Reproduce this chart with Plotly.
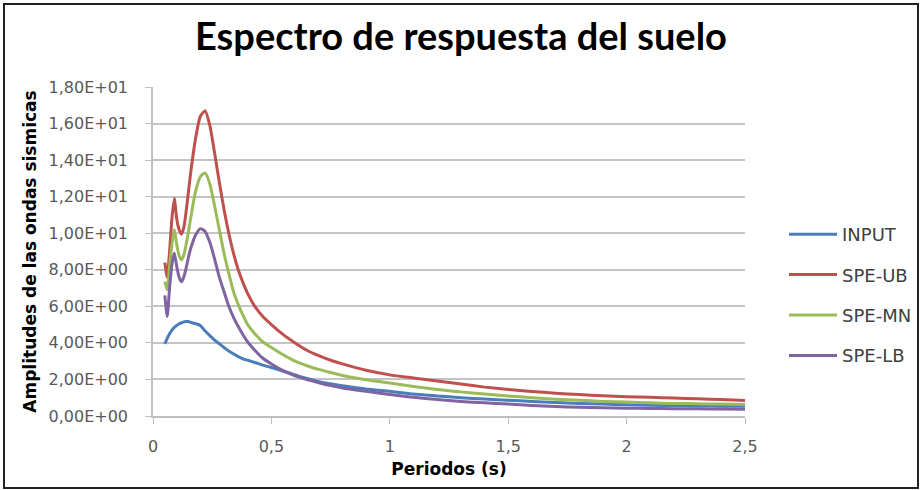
import plotly.graph_objects as go

# Periods (s) shared by every spectrum
periodos = [0.05, 0.06, 0.07, 0.08, 0.09, 0.10, 0.11, 0.12, 0.13, 0.14, 0.15, 0.16,
            0.18, 0.20, 0.22, 0.24, 0.26, 0.28, 0.30, 0.32, 0.34, 0.36, 0.38, 0.40,
            0.43, 0.46, 0.50, 0.55, 0.60, 0.65, 0.70, 0.75, 0.80, 0.90, 1.00, 1.10,
            1.20, 1.30, 1.40, 1.50, 1.60, 1.70, 1.80, 1.90, 2.00, 2.10, 2.20, 2.30,
            2.40, 2.50]

input_vals = [3.95, 4.25, 4.5, 4.7, 4.85, 4.95, 5.05, 5.1, 5.15, 5.17, 5.17, 5.12,
              5.05, 4.95, 4.65, 4.4, 4.15, 3.95, 3.75, 3.55, 3.4, 3.25, 3.13, 3.05,
              2.93, 2.8, 2.65, 2.45, 2.25, 2.05, 1.88, 1.76, 1.65, 1.48, 1.35, 1.2,
              1.1, 1.0, 0.93, 0.86, 0.8, 0.74, 0.69, 0.65, 0.62, 0.59, 0.57, 0.55,
              0.54, 0.53]

spe_ub = [8.4, 7.6, 9.0, 10.8, 11.9, 10.8, 10.2, 9.95, 10.3, 11.2, 12.3, 13.4,
          15.2, 16.4, 16.7, 15.9, 14.4, 12.8, 11.3, 10.0, 8.9, 8.0, 7.3, 6.7,
          6.0, 5.5, 5.0, 4.45, 4.0, 3.6, 3.3, 3.05, 2.85, 2.5, 2.25, 2.08,
          1.92, 1.75, 1.58, 1.45, 1.34, 1.25, 1.17, 1.11, 1.06, 1.02, 0.98, 0.94,
          0.9, 0.85]

spe_mn = [7.35, 6.9, 8.2, 9.4, 10.2, 9.4, 8.8, 8.55, 8.8, 9.4, 10.1, 10.9,
          12.3, 13.1, 13.3, 12.7, 11.5, 10.2, 8.9, 7.8, 6.8, 6.1, 5.5, 5.0,
          4.5, 4.1, 3.75, 3.35, 3.0, 2.75, 2.55, 2.38, 2.22, 1.98, 1.8, 1.62,
          1.45, 1.32, 1.2, 1.1, 1.0, 0.92, 0.86, 0.8, 0.76, 0.72, 0.69, 0.67,
          0.65, 0.63]

spe_lb = [6.6, 5.45, 7.0, 8.3, 8.9, 8.2, 7.6, 7.35, 7.6, 8.1, 8.7, 9.2,
          9.9, 10.25, 10.1, 9.5, 8.6, 7.6, 6.8, 6.0, 5.4, 4.9, 4.45, 4.05,
          3.6, 3.2, 2.85, 2.48, 2.2, 2.0, 1.82, 1.66, 1.53, 1.35, 1.18, 1.02,
          0.9, 0.8, 0.72, 0.65, 0.58, 0.52, 0.48, 0.45, 0.43, 0.41, 0.4, 0.39,
          0.38, 0.37]

series_names = ["INPUT", "SPE-UB", "SPE-MN", "SPE-LB"]
series_values = [input_vals, spe_ub, spe_mn, spe_lb]
series_colors = ["#4A7EBB", "#C0504D", "#9BBB59", "#8064A2"]

y_tickvals = [0, 2, 4, 6, 8, 10, 12, 14, 16, 18]
y_ticktext = ["0,00E+00", "2,00E+00", "4,00E+00", "6,00E+00", "8,00E+00",
              "1,00E+01", "1,20E+01", "1,40E+01", "1,60E+01", "1,80E+01"]
x_tickvals = [0, 0.5, 1, 1.5, 2, 2.5]
x_ticktext = ["0", "0,5", "1", "1,5", "2", "2,5"]

TITLE_FONT = "Lato, sans-serif"
FONT = "'DejaVu Sans', sans-serif"

fig = go.Figure()
for name, vals, color in zip(series_names, series_values, series_colors):
    fig.add_trace(go.Scatter(
        x=periodos, y=vals, name=name, mode="lines",
        legendgroup=name,
        line=dict(color=color, width=3, shape="spline", smoothing=0.6),
    ))

W, H = 922, 490
L, R, T, B = 153, 177, 87, 74
pw, ph = W - L - R, H - T - B

def px_x(p):
    return (p - L) / pw

def px_y(p):
    return (H - B - p) / ph

fig.update_layout(
    width=W, height=H,
    margin=dict(l=L, r=R, t=T, b=B, autoexpand=False),
    paper_bgcolor="white", plot_bgcolor="white",
    font=dict(family=FONT, color="#595959", size=16),
    title=dict(text="<b>Espectro de respuesta del suelo</b>",
               x=0.5, xanchor="center", y=1 - 37 / H, yanchor="middle",
               font=dict(family=TITLE_FONT, size=38, color="#000000")),
    showlegend=True,
    legend=dict(x=px_x(784), xanchor="left", y=px_y(216), yanchor="top",
                itemwidth=48,
                font=dict(family=FONT, size=18, color="#404040"),
                tracegroupgap=14, bgcolor="rgba(0,0,0,0)"),
    xaxis=dict(range=[0, 2.5], tickvals=x_tickvals, ticktext=x_ticktext,
               automargin=False,
               showgrid=False, zeroline=False,
               showline=True, linecolor="#BFBFBF", linewidth=1.5,
               ticks="outside", ticklen=6, tickcolor="#BFBFBF",
               ticklabelstandoff=9,
               tickfont=dict(family=FONT, size=16, color="#595959"),
               title=dict(text="<b>Periodos (s)</b>", standoff=8,
                          font=dict(family=FONT, size=17, color="#000000"))),
    yaxis=dict(range=[0, 18], tickvals=y_tickvals, ticktext=y_ticktext,
               automargin=False,
               showgrid=True, gridcolor="#C4C4C4", gridwidth=1.5,
               zeroline=False,
               showline=True, linecolor="#BFBFBF", linewidth=1.5,
               ticks="outside", ticklen=6, tickcolor="#BFBFBF",
               ticklabelstandoff=14,
               tickfont=dict(family=FONT, size=16, color="#595959"),
               title=dict(text="<b>Amplitudes de las ondas sismicas</b>", standoff=8,
                          font=dict(family=FONT, size=17, color="#000000"))),
    shapes=[dict(type="rect", xref="paper", yref="paper",
                 x0=px_x(4), x1=px_x(918), y0=px_y(488), y1=px_y(4),
                 line=dict(color="#222222", width=2), fillcolor="rgba(0,0,0,0)",
                 layer="below")],
)

fig.write_html("out.html")
